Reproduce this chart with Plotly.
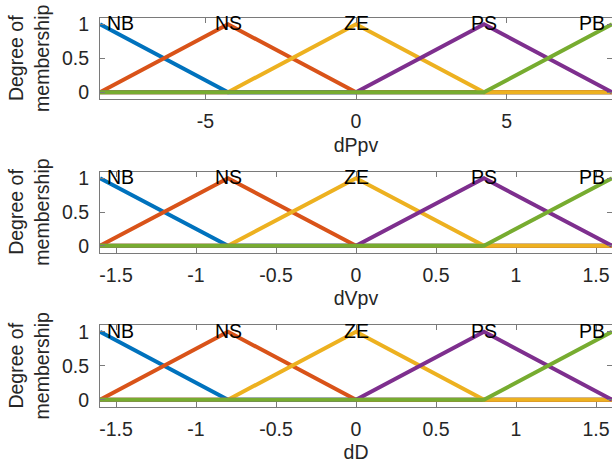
import plotly.graph_objects as go

# Membership function labels and default line colours
mf_names = ["NB", "NS", "ZE", "PS", "PB"]
mf_colors = ["#0072BD", "#D95319", "#EDB120", "#7E2F8E", "#77AC30"]

# Breakpoints (triangle vertices) of each input variable
dppv_pts = [-8.5, -4.25, 0, 4.25, 8.5]
dvpv_pts = [-1.6, -0.8, 0, 0.8, 1.6]
dd_pts = [-1.6, -0.8, 0, 0.8, 1.6]

# Membership grades at the breakpoints, one list per fuzzy set
grade_nb = [1, 0, 0, 0, 0]
grade_ns = [0, 1, 0, 0, 0]
grade_ze = [0, 0, 1, 0, 0]
grade_ps = [0, 0, 0, 1, 0]
grade_pb = [0, 0, 0, 0, 1]
grades = [grade_nb, grade_ns, grade_ze, grade_ps, grade_pb]

# Axis titles and ticks
x_titles = ["dPpv", "dVpv", "dD"]
x_ranges = [[-8.5, 8.5], [-1.6, 1.6], [-1.6, 1.6]]
x_ticks = [[-5, 0, 5],
           [-1.5, -1, -0.5, 0, 0.5, 1, 1.5],
           [-1.5, -1, -0.5, 0, 0.5, 1, 1.5]]
x_ticktext = [["-5", "0", "5"],
              ["-1.5", "-1", "-0.5", "0", "0.5", "1", "1.5"],
              ["-1.5", "-1", "-0.5", "0", "0.5", "1", "1.5"]]
y_ticks = [0, 0.5, 1]
y_ticktext = ["0", "0.5", "1"]

W, H = 612, 472
FONT = "Liberation Sans, Arial, sans-serif"
FS = 19.5
AX_COLOR = "#7a7a7a"

# panel placement in pixels (top, bottom) and left edge
panel_rows = [(17.5, 99), (171.5, 252.5), (325, 406.5)]
left_px = 100

fig = go.Figure()
point_sets = [dppv_pts, dvpv_pts, dd_pts]

for i, pts in enumerate(point_sets):
    xa = "x" if i == 0 else f"x{i + 1}"
    ya = "y" if i == 0 else f"y{i + 1}"
    for name, col, g in zip(mf_names, mf_colors, grades):
        fig.add_trace(go.Scatter(
            x=pts, y=g, mode="lines", name=name,
            line=dict(color=col, width=4),
            xaxis=xa, yaxis=ya, showlegend=False, hoverinfo="skip",
        ))
    # set names above each peak
    for k, (name, px) in enumerate(zip(mf_names, pts)):
        if k == 0:
            anchor, shift = "left", 5
        elif k == len(pts) - 1:
            anchor, shift = "right", -5
        else:
            anchor, shift = "center", 0
        fig.add_annotation(
            x=px, y=1, xref=xa, yref=ya, text=name, showarrow=False,
            xanchor=anchor, yanchor="middle", xshift=shift, yshift=1,
            font=dict(family=FONT, size=FS, color="#000000"),
        )

axis_common = dict(
    showline=True, linecolor=AX_COLOR, linewidth=1, mirror="ticks",
    ticks="inside", ticklen=5, tickcolor=AX_COLOR, tickwidth=1,
    showgrid=False, zeroline=False, automargin=False,
    tickfont=dict(family=FONT, size=FS, color="#262626"),
)

layout = {}
for i in range(3):
    top, bot = panel_rows[i]
    xkey = "xaxis" if i == 0 else f"xaxis{i + 1}"
    ykey = "yaxis" if i == 0 else f"yaxis{i + 1}"
    yname = "y" if i == 0 else f"y{i + 1}"
    xname = "x" if i == 0 else f"x{i + 1}"
    layout[xkey] = dict(
        axis_common, domain=[left_px / W, 1], anchor=yname,
        range=x_ranges[i], tickvals=x_ticks[i], ticktext=x_ticktext[i],
        ticklabelstandoff=5,
        title=dict(text=x_titles[i], standoff=6,
                   font=dict(family=FONT, size=FS, color="#262626")),
    )
    layout[ykey] = dict(
        axis_common, domain=[1 - bot / H, 1 - top / H], anchor=xname,
        range=[-0.1, 1.1], tickvals=y_ticks, ticktext=y_ticktext,
        ticklabelstandoff=6,
        title=dict(text="Degree of<br>membership", standoff=7,
                   font=dict(family=FONT, size=FS, color="#262626")),
    )

fig.update_layout(
    width=W, height=H,
    margin=dict(l=0, r=0, t=0, b=0),
    paper_bgcolor="white", plot_bgcolor="white",
    font=dict(family=FONT, size=FS, color="#262626"),
    **layout,
)

fig.write_html("out.html")
